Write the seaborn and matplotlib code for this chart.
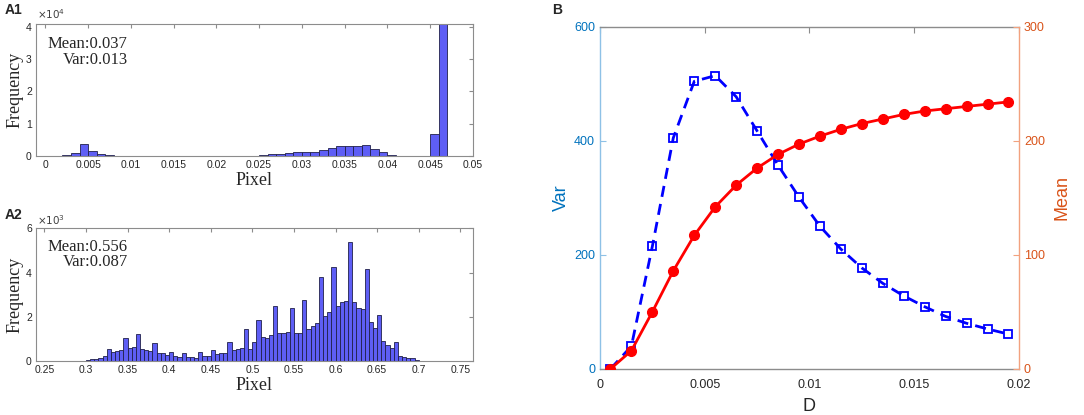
import numpy as np
import pandas as pd
import matplotlib.pyplot as plt
import seaborn as sns

# A1: pixel histogram, bins of 0.001 starting at 0.002, counts in units of 1e4
a1_start = 0.002
a1_width = 0.001
a1_counts = [0.02, 0.10, 0.38, 0.16, 0.06, 0.04, 0.015, 0.015, 0.012, 0.01,
             0.01, 0.0, 0.0, 0.0, 0.008, 0.008, 0.008, 0.008, 0.008, 0.008,
             0.008, 0.008, 0.008, 0.04, 0.05, 0.06, 0.08, 0.13, 0.11, 0.14,
             0.20, 0.25, 0.32, 0.31, 0.31, 0.34, 0.23, 0.11, 0.03, 0.0,
             0.0, 0.0, 0.01, 0.67, 4.5]

# A2: pixel histogram, bins of 0.005 starting at 0.295, counts in units of 1e3
a2_start = 0.295
a2_width = 0.005
a2_counts = [0.02, 0.05, 0.08, 0.10, 0.15, 0.22, 0.55, 0.42, 0.47, 0.52,
             1.03, 0.60, 0.65, 1.20, 0.55, 0.52, 0.45, 0.82, 0.35, 0.35,
             0.28, 0.42, 0.25, 0.20, 0.35, 0.20, 0.18, 0.15, 0.40, 0.25,
             0.22, 0.50, 0.30, 0.36, 0.35, 0.85, 0.50, 0.56, 0.59, 1.45,
             0.56, 0.88, 1.85, 1.07, 1.05, 1.18, 2.48, 1.25, 1.25, 1.33,
             2.38, 1.28, 1.28, 2.75, 1.45, 1.58, 1.72, 3.78, 2.02, 2.22,
             4.25, 2.48, 2.66, 2.70, 5.40, 2.66, 2.38, 2.33, 4.15, 1.77,
             1.50, 2.10, 0.92, 0.74, 0.60, 0.84, 0.24, 0.17, 0.12, 0.14,
             0.04, 0.02]

# B: Var and Mean against D
d_values = [0.0005, 0.0015, 0.0025, 0.0035, 0.0045, 0.0055, 0.0065, 0.0075,
            0.0085, 0.0095, 0.0105, 0.0115, 0.0125, 0.0135, 0.0145, 0.0155,
            0.0165, 0.0175, 0.0185, 0.0195]
var_values = [0, 40, 215, 405, 504, 514, 477, 417, 357, 301,
              250, 210, 177, 150, 128, 109, 92, 80, 70, 61]
mean_values = [0, 16, 50, 86, 117, 142, 161, 176, 188, 197,
               204, 210, 215, 219, 223, 226, 228, 230, 232, 234]

sns.set_style("white")
plt.rcParams['font.family'] = ['Liberation Sans', 'DejaVu Sans']

serif = 'Liberation Serif'
bar_col = '#5e5ef5'
frame_col = '#8c8c8c'

fig = plt.figure(figsize=(10.84, 4.15), dpi=100)
ax1 = fig.add_axes([0.0332, 0.624, 0.403, 0.318])
ax2 = fig.add_axes([0.0332, 0.130, 0.403, 0.320])
axb = fig.add_axes([0.5535, 0.111, 0.3865, 0.825])


def hist_panel(ax, start, width, counts):
    edges = start + width * np.arange(len(counts) + 1)
    hd = pd.DataFrame({'pixel': edges[:-1] + width / 2, 'count': counts})
    sns.histplot(data=hd, x='pixel', weights='count', bins=list(edges), ax=ax,
                 color=bar_col, alpha=1, edgecolor='#20204a', linewidth=0.6)
    ax.set_xlabel('Pixel', family=serif, fontsize=13, labelpad=1)
    ax.set_ylabel('Frequency', family=serif, fontsize=13, labelpad=2)
    ax.tick_params(direction='in', top=True, right=True, length=3,
                   labelsize=7.5, pad=3, colors='#262626', color=frame_col)
    for s in ax.spines.values():
        s.set_color(frame_col)
        s.set_linewidth(0.8)


hist_panel(ax1, a1_start, a1_width, a1_counts)
ax1.set_xlim(-0.0011, 0.05)
ax1.set_ylim(0, 4.08)
ax1.set_xticks([0, 0.005, 0.01, 0.015, 0.02, 0.025, 0.03, 0.035, 0.04, 0.045, 0.05])
ax1.set_xticklabels(['0', '0.005', '0.01', '0.015', '0.02', '0.025', '0.03',
                     '0.035', '0.04', '0.045', '0.05'])
ax1.set_yticks([0, 1, 2, 3, 4])
ax1.text(0.21, 0.85, 'Mean:0.037', transform=ax1.transAxes, ha='right', va='center',
         family=serif, fontsize=12)
ax1.text(0.21, 0.727, 'Var:0.013', transform=ax1.transAxes, ha='right', va='center',
         family=serif, fontsize=12)

hist_panel(ax2, a2_start, a2_width, a2_counts)
ax2.set_xlim(0.24, 0.765)
ax2.set_ylim(0, 6)
ax2.set_xticks([0.25, 0.3, 0.35, 0.4, 0.45, 0.5, 0.55, 0.6, 0.65, 0.7, 0.75])
ax2.set_xticklabels(['0.25', '0.3', '0.35', '0.4', '0.45', '0.5', '0.55', '0.6',
                     '0.65', '0.7', '0.75'])
ax2.set_yticks([0, 2, 4, 6])
ax2.text(0.21, 0.86, 'Mean:0.556', transform=ax2.transAxes, ha='right', va='center',
         family=serif, fontsize=12)
ax2.text(0.21, 0.746, 'Var:0.087', transform=ax2.transAxes, ha='right', va='center',
         family=serif, fontsize=12)

fig.text(0.034, 0.966, r'$\times10^4$', fontsize=7.5, color='#404040', va='center')
fig.text(0.034, 0.470, r'$\times10^3$', fontsize=7.5, color='#404040', va='center')
fig.text(0.004, 0.975, 'A1', fontsize=10, fontweight='bold', va='center')
fig.text(0.004, 0.482, 'A2', fontsize=10, fontweight='bold', va='center')
fig.text(0.509, 0.975, 'B', fontsize=10, fontweight='bold', va='center')

# panel B
df = pd.DataFrame({'D': d_values, 'Var': var_values, 'Mean': mean_values})
var_col = '#0072BD'
mean_col = '#D95319'

sns.lineplot(data=df, x='D', y='Var', ax=axb, color='blue', linewidth=2,
             linestyle=(0, (4, 2.6)), marker='s', markersize=5.5,
             markerfacecolor='none', markeredgecolor='blue', markeredgewidth=1.3)
axm = axb.twinx()
sns.lineplot(data=df, x='D', y='Mean', ax=axm, color='red', linewidth=2,
             marker='o', markersize=7, markerfacecolor='red',
             markeredgecolor='red', markeredgewidth=1)

axb.set_xlim(0, 0.02)
axb.set_ylim(0, 600)
axm.set_ylim(0, 300)
axb.set_xticks([0, 0.005, 0.01, 0.015, 0.02])
axb.set_xticklabels(['0', '0.005', '0.01', '0.015', '0.02'])
axb.set_yticks([0, 200, 400, 600])
axm.set_yticks([0, 100, 200, 300])

axb.set_xlabel('D', fontsize=13, color='#262626', labelpad=5)
axb.set_ylabel('Var', fontsize=13, color=var_col, labelpad=3)
axm.set_ylabel('Mean', fontsize=13, color=mean_col, labelpad=6)

axb.tick_params(axis='x', direction='in', top=True, length=4, labelsize=9,
                pad=7, colors='#262626', color=frame_col)
axb.tick_params(axis='y', direction='in', length=4, labelsize=9,
                colors=var_col, color='#8ec1e6')
axm.tick_params(axis='y', direction='in', length=4, labelsize=9,
                colors=mean_col, color='#f2a27f')

for s in ['top', 'bottom']:
    axb.spines[s].set_color(frame_col)
    axm.spines[s].set_visible(False)
axb.spines['left'].set_color('#8ec1e6')
axb.spines['right'].set_visible(False)
axm.spines['left'].set_visible(False)
axm.spines['right'].set_color('#f2a27f')
for s in list(axb.spines.values()) + list(axm.spines.values()):
    s.set_linewidth(1.0)

fig.savefig('out.png', dpi=100)
